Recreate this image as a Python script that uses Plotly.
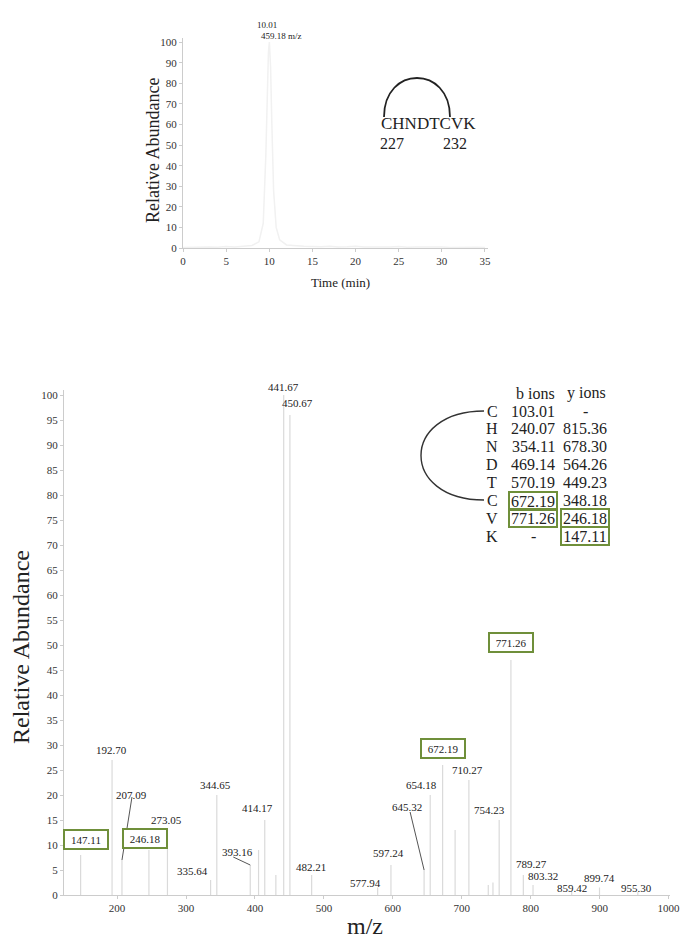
import plotly.graph_objects as go

W, H = 683, 941
SERIF = "Liberation Serif, Times New Roman, serif"
BOX_GREEN = "#6f8f3a"
INK = "#222222"

# ---------------- data ----------------
# extracted ion chromatogram (m/z 459.18)
chrom_time = [0, 1, 2, 3, 4, 5, 6, 7, 8, 8.8, 9.3, 9.6, 9.8, 9.9, 10.01, 10.15,
              10.3, 10.5, 10.8, 11.2, 12, 13, 14, 15, 16, 17, 18, 19, 20, 21, 22,
              23, 24, 25, 26, 27, 28, 29, 30, 31, 32, 33, 34, 35]
chrom_abund = [0.3, 0.4, 0.6, 0.5, 0.4, 0.7, 0.5, 0.8, 1.2, 3, 12, 45, 82, 95, 100,
               88, 60, 28, 10, 4, 1.5, 1, 0.8, 0.7, 0.6, 0.9, 0.5, 0.6, 0.8, 0.5,
               0.4, 0.6, 0.5, 0.7, 0.4, 0.5, 0.6, 0.4, 0.5, 0.3, 0.4, 0.3, 0.4, 0.3]
apex_time = 10.01
precursor_mz = "459.18"

# MS/MS spectrum: labelled peaks
peak_mz = [147.11, 192.70, 207.09, 246.18, 273.05, 335.64, 344.65, 393.16, 414.17,
           441.67, 450.67, 482.21, 577.94, 597.24, 645.32, 654.18, 672.19, 710.27,
           754.23, 771.26, 789.27, 803.32, 859.42, 899.74, 955.30]
peak_int = [8, 27, 7, 9, 13, 3, 20, 6, 15,
            100, 96, 4, 1.5, 6, 5, 20, 26, 23,
            15, 47, 4, 2, 0.6, 1.5, 0.6]
# minor unlabelled peaks
minor_mz = [405.2, 430.3, 690.3, 738.4, 745.2]
minor_int = [9, 4, 13, 2, 2.5]

# fragment table for CHNDTCVK
residues = ["C", "H", "N", "D", "T", "C", "V", "K"]
b_ions = ["103.01", "240.07", "354.11", "469.14", "570.19", "672.19", "771.26", "-"]
y_ions = ["-", "815.36", "678.30", "564.26", "449.23", "348.18", "246.18", "147.11"]
matched_ions = ["147.11", "246.18", "672.19", "771.26"]

chrom_ticks = [0, 5, 10, 15, 20, 25, 30, 35]
chrom_yticks = [0, 10, 20, 30, 40, 50, 60, 70, 80, 90, 100]
ms_xticks = [200, 300, 400, 500, 600, 700, 800, 900, 1000]
ms_yticks = list(range(0, 101, 5))

# label placement (pixel offsets from each peak top) and leader lines
label_shift = {
    147.11: (5, 16), 192.70: (-1, 10), 207.09: (10, 65), 246.18: (-4, 12),
    273.05: (-1, 10), 335.64: (-18, 9), 344.65: (-1, 10), 393.16: (-13, 13),
    414.17: (-7, 12), 441.67: (0, 8), 450.67: (8, 12), 482.21: (-1, 8),
    577.94: (-12, 5), 597.24: (-2, 12), 645.32: (-17, 63), 654.18: (-9, 10),
    672.19: (0, 17), 710.27: (-1, 10), 754.23: (-10, 10), 771.26: (0, 18),
    789.27: (8, 11), 803.32: (10, 9), 859.42: (0, 4), 899.74: (0, 10),
    955.30: (-1, 4),
}
leader_from = {207.09: (10, 63), 393.16: (-17, 8), 645.32: (-14, 58)}


def P(x, y):
    """pixel position -> paper coordinates"""
    return x / W, 1 - y / H


fig = go.Figure()

# ---------------- chromatogram ----------------
fig.add_trace(go.Scatter(x=chrom_time, y=chrom_abund, mode="lines",
                         line=dict(color="#f1f1f1", width=1.5),
                         xaxis="x", yaxis="y", hoverinfo="skip"))

# ---------------- spectrum sticks ----------------
all_mz = peak_mz + minor_mz
all_int = peak_int + minor_int
sx, sy = [], []
for m, v in zip(all_mz, all_int):
    sx += [m, m, None]
    sy += [0, v, None]
fig.add_trace(go.Scatter(x=sx, y=sy, mode="lines",
                         line=dict(color="#dadada", width=1.2),
                         xaxis="x2", yaxis="y2", hoverinfo="skip"))

annotations = []
shapes = []

# peak labels
XS = 606 / 879  # px per m/z unit
YS = 505 / 101  # px per % unit
for m, v in zip(peak_mz, peak_int):
    txt = f"{m:.2f}"
    dx, dy = label_shift[m]
    a = dict(x=m, y=v, xref="x2", yref="y2", text=txt, showarrow=False,
             xanchor="center", yanchor="middle", xshift=dx, yshift=dy,
             font=dict(family=SERIF, size=11, color=INK))
    if txt in matched_ions:
        a.update(bordercolor=BOX_GREEN, borderwidth=2, borderpad=0,
                 width=42, height=17, bgcolor="white")
    annotations.append(a)
    if m in leader_from:
        lx, ly = leader_from[m]
        shapes.append(dict(type="line", xref="x2", yref="y2",
                           x0=m + lx / XS, y0=v + ly / YS, x1=m, y1=v,
                           line=dict(color="#555555", width=1)))

# chromatogram apex labels
annotations.append(dict(x=apex_time, y=100, xref="x", yref="y", text=f"{apex_time:.2f}",
                        showarrow=False, xanchor="center", xshift=-2, yshift=17,
                        font=dict(family=SERIF, size=9, color=INK)))
annotations.append(dict(x=apex_time, y=100, xref="x", yref="y", text=f"{precursor_mz} m/z",
                        showarrow=False, xanchor="center", xshift=12, yshift=6,
                        font=dict(family=SERIF, size=9, color=INK)))

# peptide sequence with disulfide bridge
for txt, (px, py), size in [("CHNDTCVK", (428, 124), 17), ("227", (392, 143), 16),
                             ("232", (455, 143), 16)]:
    x, y = P(px, py)
    annotations.append(dict(x=x, y=y, xref="paper", yref="paper", text=txt,
                            showarrow=False, xanchor="center", yanchor="middle",
                            font=dict(family=SERIF, size=size, color=INK)))


def path(points, cmd):
    out = []
    for c, pts in zip(cmd, points):
        coords = " ".join(f"{P(px, py)[0]:.5f},{P(px, py)[1]:.5f}" for px, py in pts)
        out.append(f"{c} {coords}")
    return " ".join(out)


shapes.append(dict(type="path", xref="paper", yref="paper",
                   path=path([[(384, 117)], [(384, 65), (450, 65), (450, 117)]], ["M", "C"]),
                   line=dict(color="#222222", width=1.8)))

# fragment ion table
row0, row_step = 411, 17.9
for px, txt in [(535, "b ions"), (586, "y ions")]:
    x, y = P(px, 393)
    annotations.append(dict(x=x, y=y, xref="paper", yref="paper", text=txt,
                            showarrow=False, xanchor="center", yanchor="middle",
                            font=dict(family=SERIF, size=16, color=INK)))
for i, (r, b, yv) in enumerate(zip(residues, b_ions, y_ions)):
    py = row0 + i * row_step
    for px, txt in [(492, r), (533, b), (585, yv)]:
        x, y = P(px, py)
        a = dict(x=x, y=y, xref="paper", yref="paper", text=txt, showarrow=False,
                 xanchor="center", yanchor="middle",
                 font=dict(family=SERIF, size=16, color=INK))
        if txt in matched_ions:
            a.update(bordercolor=BOX_GREEN, borderwidth=2, borderpad=0,
                     width=46, height=16)
        annotations.append(a)

# disulfide link between the two cysteines
shapes.append(dict(type="path", xref="paper", yref="paper",
                   path=path([[(484, 411)], [(400, 411), (400, 500), (484, 500)]], ["M", "C"]),
                   line=dict(color="#333333", width=1.4)))

# axis titles
for txt, (px, py), size, ang in [("Relative Abundance", (153, 151), 18, -90),
                                  ("Time (min)", (340, 283), 13, 0),
                                  ("Relative Abundance", (21, 647), 24, -90),
                                  ("m/z", (365, 926), 24, 0)]:
    x, y = P(px, py)
    annotations.append(dict(x=x, y=y, xref="paper", yref="paper", text=txt,
                            showarrow=False, textangle=ang, xanchor="center",
                            yanchor="middle", font=dict(family=SERIF, size=size, color=INK)))

axis_common = dict(showgrid=False, zeroline=False, showline=True, linecolor="#cccccc",
                   linewidth=1, ticks="outside", ticklen=3, tickcolor="#cccccc",
                   tickfont=dict(family=SERIF, size=11, color="#333333"),
                   automargin=False)

fig.update_layout(
    width=W, height=H,
    margin=dict(l=0, r=0, t=0, b=0),
    paper_bgcolor="white", plot_bgcolor="white",
    showlegend=False,
    xaxis=dict(domain=[183 / W, 488 / W], range=[0, 35.35], tickvals=chrom_ticks,
               anchor="y", **axis_common),
    yaxis=dict(domain=[1 - 248 / H, 1 - 38 / H], range=[0, 102], tickvals=chrom_yticks,
               anchor="x", **axis_common),
    xaxis2=dict(domain=[64 / W, 670 / W], range=[123, 1002], tickvals=ms_xticks,
                anchor="y2", **axis_common),
    yaxis2=dict(domain=[1 - 895 / H, 1 - 390 / H], range=[0, 101], tickvals=ms_yticks,
                anchor="x2", **axis_common),
    annotations=annotations,
    shapes=shapes,
)

fig.write_html("out.html")
